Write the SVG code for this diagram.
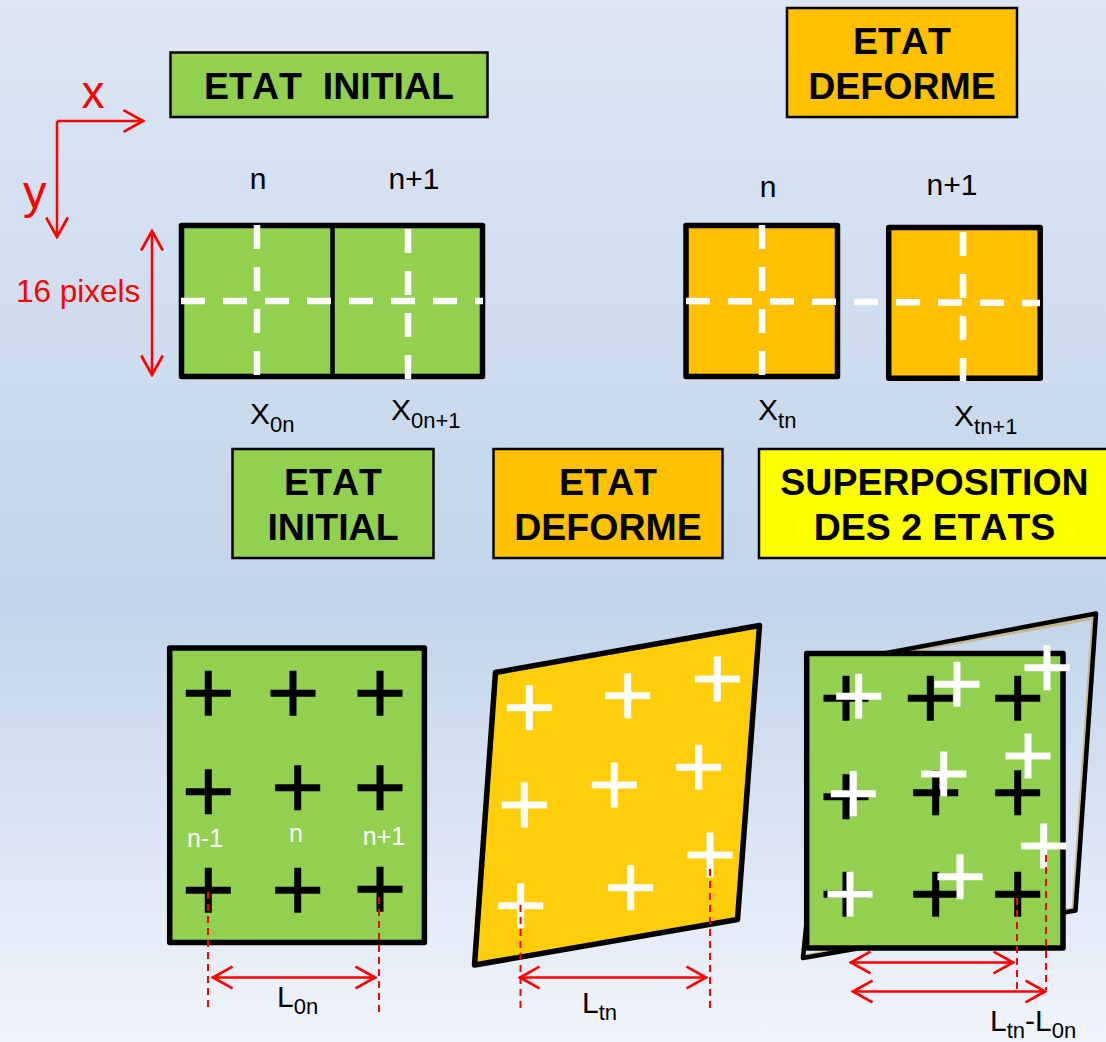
<svg xmlns="http://www.w3.org/2000/svg" width="1106" height="1042" viewBox="0 0 1106 1042">
<style>
text{font-family:"Liberation Sans",Arial,sans-serif;white-space:pre}
.t{font-weight:bold;font-size:37.500px;fill:#000;text-anchor:middle;font-kerning:none}
.l{font-size:30px;fill:#000}
.c{text-anchor:middle}
.s{font-size:22px}
.r{fill:#f00}
.w{font-size:25px;fill:#fff;text-anchor:middle}
.bx{stroke:#000;stroke-width:2.500}
.g{fill:#92d050}
.o{fill:#ffc000}
.y{fill:#ffff00}
.sq{stroke:#000;stroke-width:5.500;stroke-linejoin:round}
.d{stroke:#fff;stroke-width:6.500;stroke-dasharray:24 18;fill:none}
.a{stroke:#f00;stroke-width:2.500;fill:none}
.ra{marker-end:url(#ah)}
.da{marker-start:url(#ah);marker-end:url(#ah)}
.rd{stroke:#f00;stroke-width:2;stroke-dasharray:7 5;fill:none}
.cb{stroke:#000;stroke-width:7;fill:none}
.cw{stroke:#fff;stroke-width:7;fill:none}
</style>
<defs>
<linearGradient id="bg" x1="0" y1="0" x2="0" y2="1">
<stop offset="0" stop-color="#dde7f3"/>
<stop offset="0.58" stop-color="#c2d4ea"/>
<stop offset="1" stop-color="#f1f4fb"/>
</linearGradient>
<marker id="ah" markerUnits="userSpaceOnUse" markerWidth="24" markerHeight="26" viewBox="-20 -12 22 24" refX="0" refY="0" orient="auto-start-reverse">
<path d="M-18,-10 L0,0 L-18,10" fill="none" stroke="#f00" stroke-width="2.500"/>
</marker>
<path id="x" d="M-22.500,0H22.500M0,-22.500V22.500"/>
</defs>
<rect width="1106" height="1042" fill="url(#bg)"/>

<g id="title-initial"><rect class="bx g" x="170.500" y="52.500" width="317" height="64.500"/><text class="t" x="329" y="99">ETAT  INITIAL</text></g>
<g id="title-deforme"><rect class="bx o" x="787" y="8" width="230" height="109"/><text class="t" x="902" y="54">ETAT</text><text class="t" x="902" y="99">DEFORME</text></g>
<g id="label-initial"><rect class="bx g" x="232.500" y="449" width="201" height="109"/><text class="t" x="333" y="495">ETAT</text><text class="t" x="333" y="540">INITIAL</text></g>
<g id="label-deforme"><rect class="bx o" x="493.500" y="449" width="229" height="109"/><text class="t" x="608" y="495">ETAT</text><text class="t" x="608" y="540">DEFORME</text></g>
<g id="label-superposition"><rect class="bx y" x="759" y="449" width="349" height="109"/><text class="t" x="934.500" y="495">SUPERPOSITION</text><text class="t" x="934.500" y="540">DES 2 ETATS</text></g>

<g id="axes">
<text class="r c" x="93" y="108" font-size="46">x</text>
<text class="r" x="23" y="208" font-size="47">y</text>
</g>

<g id="cells-initial">
<rect class="sq g" x="181.500" y="225.500" width="301" height="151"/>
<path d="M332.500,223V379" stroke="#000" stroke-width="4.500"/>
<path class="d" d="M257,225V375"/>
<path class="d" d="M408,229V379"/>
<path class="d" d="M181,301H483"/>
<text class="l c" x="258" y="189">n</text>
<text class="l c" x="414" y="189">n+1</text>
<text class="l" x="250" y="424">X<tspan class="s" dy="8">0n</tspan></text>
<text class="l" x="391" y="420">X<tspan class="s" dy="8">0n+1</tspan></text>
<text class="r" x="16" y="302" font-size="31.500">16 pixels</text>
</g>

<g id="cells-deforme">
<rect class="sq o" x="686" y="225.500" width="151.500" height="151"/>
<rect class="sq o" x="888.700" y="227.500" width="151.500" height="150.700"/>
<path class="d" d="M762,225V375"/>
<path class="d" d="M963,232V381"/>
<path class="d" d="M686,301L1040,303"/>
<text class="l c" x="768" y="197">n</text>
<text class="l c" x="952" y="195">n+1</text>
<text class="l" x="758" y="420">X<tspan class="s" dy="8">tn</tspan></text>
<text class="l" x="954" y="426">X<tspan class="s" dy="8">tn+1</tspan></text>
</g>

<g id="grid-initial">
<rect class="sq g" x="169.700" y="648" width="254.700" height="294.500"/>
<g class="cb">
<use href="#x" x="208.300" y="693.300"/><use href="#x" x="293" y="693.300"/><use href="#x" x="380" y="693.300"/>
<use href="#x" x="208.300" y="791.700"/><use href="#x" x="297.700" y="787.700"/><use href="#x" x="380" y="787.700"/>
<use href="#x" x="208.300" y="890.300"/><use href="#x" x="297.700" y="890.300"/><use href="#x" x="380" y="889.300"/>
</g>
<text class="w" x="205" y="847">n-1</text>
<text class="w" x="296" y="842">n</text>
<text class="w" x="384" y="845">n+1</text>
<text class="l" x="277" y="1007">L<tspan class="s" dy="7">0n</tspan></text>
</g>

<g id="grid-deforme">
<polygon points="495.500,672.500 759.500,625.500 737.500,919.500 474.500,965" fill="#ffce0a" stroke="#000" stroke-width="5.500" stroke-linejoin="round"/>
<g class="cw">
<use href="#x" x="529.300" y="707.700"/><use href="#x" x="627.700" y="695.700"/><use href="#x" x="717.300" y="679"/>
<use href="#x" x="524.300" y="805"/><use href="#x" x="614.300" y="785"/><use href="#x" x="698.700" y="767.300"/>
<use href="#x" x="520.700" y="905.700"/><use href="#x" x="630.700" y="887.700"/><use href="#x" x="710" y="855"/>
</g>
<text class="l" x="582" y="1013">L<tspan class="s" dy="7">tn</tspan></text>
</g>

<g id="grid-superposition">
<polygon points="835,664 1094,617 1074,910 803,957" fill="none" stroke="#c8aa66" stroke-width="5" stroke-linejoin="round" opacity="0.7"/>
<polygon points="833,663 1096,613.500 1075.500,910.500 803,958" fill="none" stroke="#000" stroke-width="4.500" stroke-linejoin="round"/>
<rect class="sq g" x="806.700" y="653.500" width="256.300" height="294.500"/>
<g class="cb">
<use href="#x" x="846" y="698.300"/><use href="#x" x="930.300" y="698.300"/><use href="#x" x="1017.700" y="698.300"/>
<use href="#x" x="846" y="796.700"/><use href="#x" x="935.700" y="792.700"/><use href="#x" x="1017.700" y="792.700"/>
<use href="#x" x="846" y="894.300"/><use href="#x" x="935.700" y="894.300"/><use href="#x" x="1017.700" y="894.300"/>
</g>
<g class="cw">
<use href="#x" x="858.700" y="696.300"/><use href="#x" x="957" y="684.300"/><use href="#x" x="1047" y="667.700"/>
<use href="#x" x="853.300" y="793.700"/><use href="#x" x="943.700" y="774"/><use href="#x" x="1028" y="756"/>
<use href="#x" x="850" y="894.300"/><use href="#x" x="960" y="876.700"/><use href="#x" x="1043.700" y="846"/>
</g>
<text class="l" x="990" y="1031">L<tspan class="s" dy="7">tn</tspan><tspan dy="-7">-L</tspan><tspan class="s" dy="7">0n</tspan></text>
</g>

<g id="connectors">
<path class="a ra" d="M57,121H143"/>
<path class="a ra" d="M57,121V237"/>
<path class="a da" d="M152,231V375"/>
<path class="rd" d="M208,892V1007"/>
<path class="rd" d="M379,897V1012"/>
<path class="a da" d="M213,977.500H375"/>
<path class="rd" d="M520.500,905V1010"/>
<path class="rd" d="M710,869V1012"/>
<path class="a da" d="M520,977.500H706"/>
<path class="rd" d="M1017,898V990"/>
<path class="rd" d="M1046,855V990"/>
<path class="a da" d="M851,962.500H1013"/>
<path class="a da" d="M853,991.500H1045"/>
</g>
</svg>
